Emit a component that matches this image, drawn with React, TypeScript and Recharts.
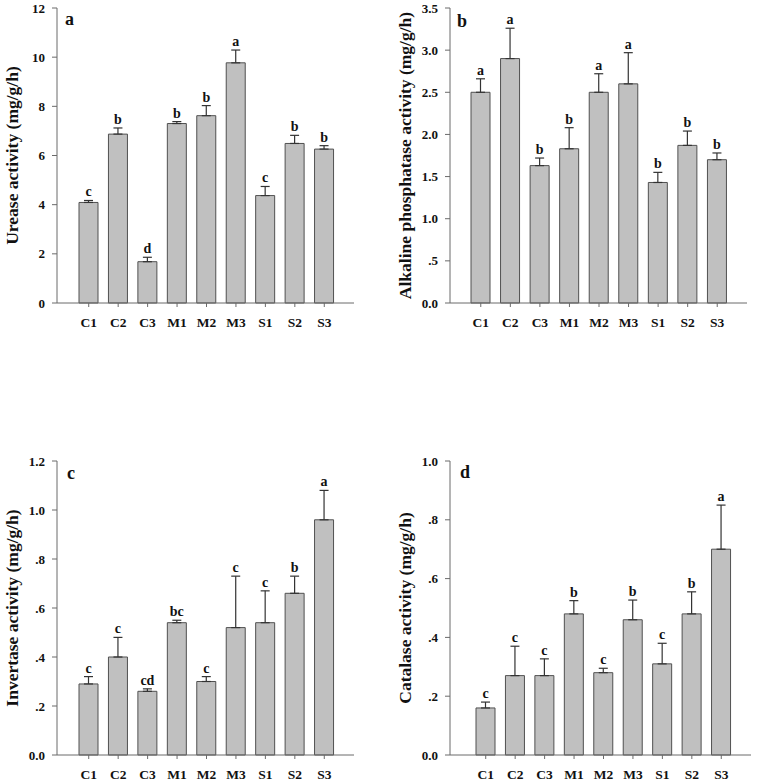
import React from 'react';
import { BarChart, Bar, XAxis, YAxis, ErrorBar, LabelList } from 'recharts';

const categories = ['C1', 'C2', 'C3', 'M1', 'M2', 'M3', 'S1', 'S2', 'S3'];

// a - urease
const ureaseMean = [4.09, 6.87, 1.68, 7.3, 7.62, 9.77, 4.37, 6.49, 6.26];
const ureaseSe = [0.08, 0.25, 0.18, 0.08, 0.41, 0.52, 0.37, 0.33, 0.14];
const ureaseLetters = ['c', 'b', 'd', 'b', 'b', 'a', 'c', 'b', 'b'];
const ureaseTicks = [0, 2, 4, 6, 8, 10, 12];
const ureaseTickLabels = ['0', '2', '4', '6', '8', '10', '12'];

// b - alkaline phosphatase
const phosMean = [2.5, 2.9, 1.63, 1.83, 2.5, 2.6, 1.43, 1.87, 1.7];
const phosSe = [0.16, 0.36, 0.09, 0.25, 0.22, 0.37, 0.12, 0.17, 0.08];
const phosLetters = ['a', 'a', 'b', 'b', 'a', 'a', 'b', 'b', 'b'];
const phosTicks = [0, 0.5, 1, 1.5, 2, 2.5, 3, 3.5];
const phosTickLabels = ['0.0', '.5', '1.0', '1.5', '2.0', '2.5', '3.0', '3.5'];

// c - invertase
const invMean = [0.29, 0.4, 0.26, 0.54, 0.3, 0.52, 0.54, 0.66, 0.96];
const invSe = [0.03, 0.08, 0.01, 0.01, 0.02, 0.21, 0.13, 0.07, 0.12];
const invLetters = ['c', 'c', 'cd', 'bc', 'c', 'c', 'c', 'b', 'a'];
const invTicks = [0, 0.2, 0.4, 0.6, 0.8, 1.0, 1.2];
const invTickLabels = ['0.0', '.2', '.4', '.6', '.8', '1.0', '1.2'];

// d - catalase
const catMean = [0.16, 0.27, 0.27, 0.48, 0.28, 0.46, 0.31, 0.48, 0.7];
const catSe = [0.02, 0.1, 0.057, 0.045, 0.015, 0.067, 0.07, 0.075, 0.15];
const catLetters = ['c', 'c', 'c', 'b', 'c', 'b', 'c', 'b', 'a'];
const catTicks = [0, 0.2, 0.4, 0.6, 0.8, 1.0];
const catTickLabels = ['0.0', '.2', '.4', '.6', '.8', '1.0'];

const FONT = "'Liberation Serif', 'Times New Roman', serif";
const AXIS = '#6a6a6a';

interface PanelProps {
  tag: string;
  yLabel: string;
  mean: number[];
  se: number[];
  letters: string[];
  ticks: number[];
  tickLabels: string[];
  left: number;
  top: number;
  width: number;
  height: number;
  plot: { l: number; r: number; t: number; b: number };
  pad: { left: number; right: number };
  labelX: number;
  tagPos: { x: number; y: number };
}

const Panel: React.FC<PanelProps> = (p) => {
  const data = categories.map((c, i) => ({
    name: c,
    mean: p.mean[i],
    err: [0, p.se[i]],
    letter: p.letters[i],
  }));
  const xAxisH = 30;
  const yMax = p.ticks[p.ticks.length - 1];
  const plotMid = (p.plot.t + p.plot.b) / 2;

  const renderLetter = (props: any) => {
    const { x, y, width, height, value, index } = props;
    const bx = Number(x) + Number(width) / 2;
    const pxPerUnit = Number(height) / p.mean[index];
    const topErr = Number(y) - p.se[index] * pxPerUnit;
    return (
      <text x={bx} y={topErr - 4} textAnchor="middle" fontFamily={FONT} fontWeight="bold" fontSize={14} fill="#111">
        {value}
      </text>
    );
  };

  return (
    <div style={{ position: 'absolute', left: p.left, top: p.top, width: p.width, height: p.height }}>
      <BarChart
        width={p.width}
        height={p.height}
        data={data}
        margin={{ top: p.plot.t, right: p.width - p.plot.r, bottom: p.height - p.plot.b - xAxisH, left: 0 }}
      >
        <XAxis
          dataKey="name"
          height={xAxisH}
          padding={p.pad}
          stroke={AXIS}
          tickSize={4}
          tickMargin={10}
          tick={{ fontFamily: FONT, fontWeight: 'bold', fontSize: 13.5, fill: '#111' }}
        />
        <XAxis xAxisId="top" orientation="top" dataKey="name" height={0} tick={false} tickLine={false} stroke="#555" />
        <YAxis
          width={p.plot.l}
          domain={[0, yMax]}
          ticks={p.ticks}
          interval={0}
          stroke={AXIS}
          tickSize={5}
          tickMargin={7}
          tickFormatter={(v: number, i: number) => p.tickLabels[i] ?? String(v)}
          tick={{ fontFamily: FONT, fontWeight: 'bold', fontSize: 13, fill: '#111' }}
          label={{
            content: () => (
              <text
                x={p.labelX}
                y={plotMid}
                transform={`rotate(-90 ${p.labelX} ${plotMid})`}
                textAnchor="middle"
                dominantBaseline="central"
                fontFamily={FONT}
                fontWeight="bold"
                fontSize={17.5}
                fill="#111"
              >
                {p.yLabel}
              </text>
            ),
          }}
        />
        <YAxis yAxisId="r" orientation="right" width={0} domain={[0, yMax]} tick={false} tickLine={false} stroke="#555" />
        <Bar dataKey="mean" barSize={19} fill="#c0c0c0" stroke="#505050" strokeWidth={1} isAnimationActive={false}>
          <ErrorBar dataKey="err" direction="y" width={4.5} stroke="#333" strokeWidth={1.2} />
          <LabelList dataKey="letter" content={renderLetter} />
        </Bar>
      </BarChart>
      <div
        style={{
          position: 'absolute',
          left: p.tagPos.x,
          top: p.tagPos.y,
          fontFamily: FONT,
          fontWeight: 'bold',
          fontSize: 18,
          lineHeight: '18px',
          color: '#111',
        }}
      >
        {p.tag}
      </div>
    </div>
  );
};

export default function App() {
  return (
    <div style={{ position: 'absolute', left: 0, top: 0, width: 778, height: 784, background: '#fff' }}>
      <Panel
        tag="a"
        yLabel="Urease activity (mg/g/h)"
        mean={ureaseMean}
        se={ureaseSe}
        letters={ureaseLetters}
        ticks={ureaseTicks}
        tickLabels={ureaseTickLabels}
        left={0}
        top={0}
        width={389}
        height={340}
        plot={{ l: 57, r: 354, t: 8, b: 303 }}
        pad={{ left: 17, right: 15 }}
        labelX={12}
        tagPos={{ x: 65, y: 10 }}
      />
      <Panel
        tag="b"
        yLabel="Alkaline phosphatase activity (mg/g/h)"
        mean={phosMean}
        se={phosSe}
        letters={phosLetters}
        ticks={phosTicks}
        tickLabels={phosTickLabels}
        left={389}
        top={0}
        width={389}
        height={340}
        plot={{ l: 61, r: 358, t: 8, b: 303 }}
        pad={{ left: 16, right: 15 }}
        labelX={16}
        tagPos={{ x: 68, y: 12 }}
      />
      <Panel
        tag="c"
        yLabel="Invertase activity (mg/g/h)"
        mean={invMean}
        se={invSe}
        letters={invLetters}
        ticks={invTicks}
        tickLabels={invTickLabels}
        left={0}
        top={420}
        width={389}
        height={364}
        plot={{ l: 57, r: 354, t: 41, b: 335 }}
        pad={{ left: 17, right: 15 }}
        labelX={12}
        tagPos={{ x: 67, y: 44 }}
      />
      <Panel
        tag="d"
        yLabel="Catalase activity (mg/g/h)"
        mean={catMean}
        se={catSe}
        letters={catLetters}
        ticks={catTicks}
        tickLabels={catTickLabels}
        left={389}
        top={420}
        width={389}
        height={364}
        plot={{ l: 61, r: 362, t: 41, b: 335 }}
        pad={{ left: 21, right: 15 }}
        labelX={16}
        tagPos={{ x: 71, y: 43 }}
      />
    </div>
  );
}
